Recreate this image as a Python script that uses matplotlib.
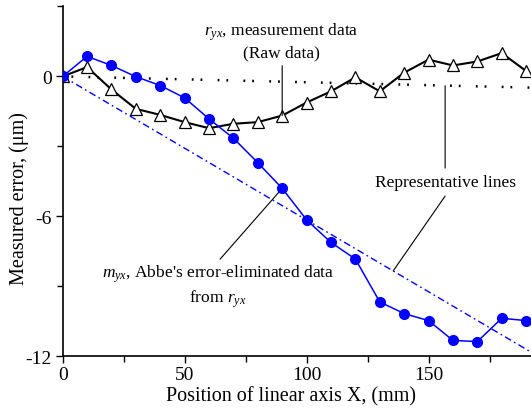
import matplotlib
matplotlib.use("Agg")
import matplotlib.pyplot as plt
from matplotlib.ticker import MultipleLocator

plt.rcParams['font.family'] = ['Liberation Serif', 'DejaVu Serif']
plt.rcParams['mathtext.fontset'] = 'custom'
plt.rcParams['mathtext.rm'] = 'Liberation Serif'
plt.rcParams['mathtext.it'] = 'Liberation Serif:italic'
plt.rcParams['lines.scale_dashes'] = False
plt.rcParams['axes.unicode_minus'] = False

# ---- data ----
x_pos = [0, 10, 20, 30, 40, 50, 60, 70, 80, 90, 100, 110, 120, 130, 140, 150, 160, 170, 180, 190]
r_yx = [0.0, 0.40, -0.56, -1.39, -1.65, -1.96, -2.22, -2.03, -1.96, -1.68, -1.12, -0.64, -0.04,
        -0.64, 0.16, 0.72, 0.47, 0.64, 1.00, 0.23]
m_yx = [0.0, 0.86, 0.47, -0.01, -0.39, -0.92, -1.82, -2.65, -3.70, -4.80, -6.15, -7.12, -7.83,
        -9.67, -10.17, -10.47, -11.32, -11.37, -10.37, -10.47]
rep_x = [0, 192]
rep_r = [0, -0.48]
rep_m = [0, -11.82]

fig = plt.figure(figsize=(5.31, 4.14), dpi=100)
ax = fig.add_axes([0.118, 0.137, 0.882, 0.845])

ax.plot(rep_x, rep_r, color='black', lw=1.8,
        linestyle=(0, (1.3, 5.0, 1.3, 11.0)), zorder=2)
ax.plot(rep_x, rep_m, color='blue', lw=1.0,
        linestyle=(0, (5.0, 2.5, 1.2, 2.5)), zorder=2)
ax.plot(x_pos, r_yx, color='black', lw=1.5, marker='^', markersize=8,
        markerfacecolor='white', markeredgecolor='black', markeredgewidth=0.9, zorder=3)
ax.plot(x_pos, m_yx, color='blue', lw=1.1, marker='o', markersize=7,
        markerfacecolor='blue', markeredgecolor='blue', zorder=4)

ax.set_xlim(0, 192)
ax.set_ylim(-12, 3)
ax.xaxis.set_major_locator(MultipleLocator(50))
ax.xaxis.set_minor_locator(MultipleLocator(25))
ax.set_yticks([0, -6, -12])
ax.set_yticks([3, -3, -9], minor=True)
ax.tick_params(axis='both', which='major', direction='out', length=5, width=1,
               labelsize=14, pad=2)
ax.tick_params(axis='both', which='minor', direction='out', length=4, width=1)
ax.tick_params(axis='y', which='major', pad=3)

for s in ['top', 'right']:
    ax.spines[s].set_visible(False)
for s in ['left', 'bottom']:
    ax.spines[s].set_linewidth(1.2)

ax.set_xlabel('Position of linear axis X, (mm)', fontsize=14.5)
ax.set_ylabel('Measured error, (\u03bcm)', fontsize=14.5)
ax.xaxis.set_label_coords(0.4875, -0.085)
ax.yaxis.set_label_coords(-0.072, 0.455)

lk = dict(arrowstyle='-', color='black', lw=0.8, shrinkA=0, shrinkB=0)

ax.text(89.5, 1.53, '$r_{yx}$, measurement data\n(Raw data)', ha='center', va='center',
        fontsize=12.5, linespacing=1.2)
ax.annotate('', xy=(90, r_yx[9]), xytext=(90, 0.46), arrowprops=lk)

ax.text(156.8, -4.53, 'Representative lines', ha='center', va='center', fontsize=12.5)
ax.annotate('', xy=(156.8, -0.40), xytext=(156.8, -3.93), arrowprops=lk)
ax.annotate('', xy=(135.5, -8.34), xytext=(156.8, -5.13), arrowprops=lk)

ax.text(63.7, -8.98, "$m_{yx}$, Abbe's error-eliminated data\nfrom $r_{yx}$", ha='center',
        va='center', fontsize=12.5, linespacing=1.2)
ax.annotate('', xy=(90, m_yx[9]), xytext=(64.5, -7.84), arrowprops=lk)

fig.savefig('out.png', dpi=100)
